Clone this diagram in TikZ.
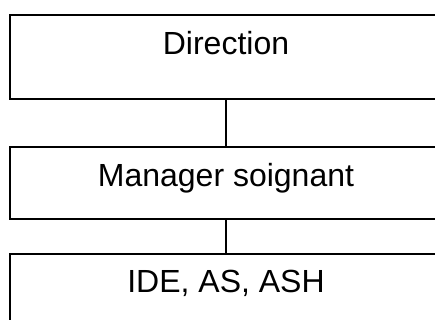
\documentclass[tikz,border=0pt]{standalone}
\usepackage{fontspec}
\setmainfont{Liberation Sans}
\usepackage{tikz}

\begin{document}
\begin{tikzpicture}[x=1pt, y=1pt]
                    \clip (0,0) rectangle (435,-320);

                    \node[draw, line width=1.8pt, inner sep=0pt, minimum width=432pt, anchor=north, text height=40pt, text depth=44pt, font=\fontsize{32}{38}\selectfont] (dir) at (226,-14) {Direction};
                    \node[draw, line width=1.8pt, inner sep=0pt, minimum width=432pt, anchor=north, text height=40pt, text depth=32pt, font=\fontsize{32}{38}\selectfont] (man) at (226,-146) {Manager soignant};
                    \node[draw, line width=1.8pt, inner sep=0pt, minimum width=432pt, anchor=north, text height=39pt, text depth=45pt, font=\fontsize{32}{38}\selectfont] (ide) at (226,-253) {IDE, AS, ASH};

                    \draw[line width=1.8pt] (dir) -- (man);
                    \draw[line width=1.8pt] (man) -- (ide);

                \end{tikzpicture}
\end{document}
